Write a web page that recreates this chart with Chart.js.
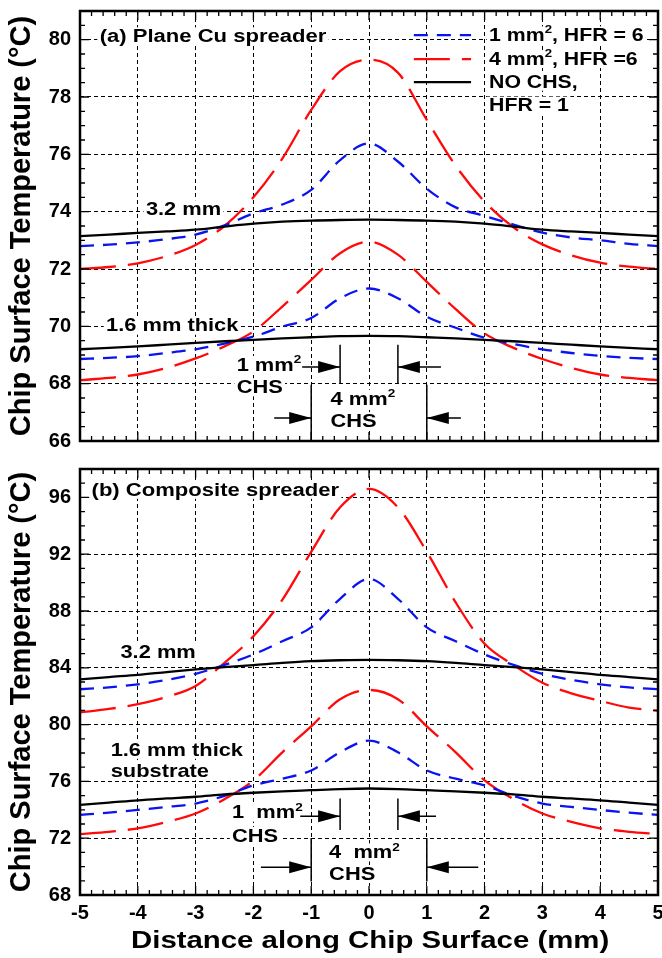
<!DOCTYPE html>
<html>
<head>
<meta charset="utf-8">
<script src="https://cdn.jsdelivr.net/npm/chart.js@4.4.0/dist/chart.umd.min.js"></script>
<style>
  body { margin: 0; background: #fff; }
  #wrap { position: relative; width: 662px; height: 958px; }
  #chartA { position: absolute; left: 0; top: 0; }
  #chartB { position: absolute; left: 0; top: 455px; }
</style>
</head>
<body>
<div id="wrap">
  <canvas id="chartA" width="662" height="455"></canvas>
  <canvas id="chartB" width="662" height="503"></canvas>
</div>
<script>
// distance along chip surface (mm)
const distance = [-5, -4.5, -4, -3.5, -3, -2.5, -2, -1.5, -1, -0.5, 0, 0.5, 1, 1.5, 2, 2.5, 3, 3.5, 4, 4.5, 5];
const xTicks = [-5, -4, -3, -2, -1, 0, 1, 2, 3, 4, 5];
const yTicksA = [66, 68, 70, 72, 74, 76, 78, 80];
const yTicksB = [68, 72, 76, 80, 84, 88, 92, 96];

// (a) plane Cu spreader, 3.2 mm
const cuThickChs1 = [72.8, 72.85, 72.93, 73.04, 73.2, 73.52, 73.94, 74.25, 74.76, 75.8, 76.38, 75.75, 74.8, 74.15, 73.85, 73.55, 73.27, 73.1, 73.0, 72.88, 72.8];
const cuThickChs4 = [72.0, 72.07, 72.2, 72.45, 72.84, 73.5, 74.5, 75.85, 77.55, 78.9, 79.3, 78.85, 77.2, 75.6, 74.35, 73.45, 72.86, 72.48, 72.22, 72.08, 72.0];
const cuThickNoChs = [73.15, 73.2, 73.26, 73.31, 73.37, 73.48, 73.58, 73.65, 73.69, 73.71, 73.72, 73.71, 73.69, 73.65, 73.58, 73.48, 73.37, 73.31, 73.26, 73.2, 73.15];
// (a) plane Cu spreader, 1.6 mm
const cuThinChs1 = [68.86, 68.9, 68.96, 69.07, 69.2, 69.4, 69.64, 69.99, 70.29, 70.98, 71.32, 70.98, 70.33, 69.95, 69.6, 69.38, 69.2, 69.07, 68.97, 68.9, 68.86];
const cuThinChs4 = [68.12, 68.2, 68.32, 68.55, 68.88, 69.3, 69.82, 70.69, 71.62, 72.55, 72.95, 72.5, 71.55, 70.6, 69.75, 69.25, 68.86, 68.55, 68.32, 68.2, 68.12];
const cuThinNoChs = [69.2, 69.25, 69.3, 69.36, 69.42, 69.48, 69.53, 69.58, 69.62, 69.66, 69.67, 69.66, 69.62, 69.58, 69.53, 69.48, 69.42, 69.36, 69.3, 69.25, 69.2];
// (b) composite spreader, 3.2 mm
const compThickChs1 = [82.49, 82.62, 82.84, 83.15, 83.58, 84.2, 84.94, 85.87, 86.85, 88.86, 90.26, 88.86, 86.85, 85.87, 84.94, 84.2, 83.58, 83.15, 82.84, 82.62, 82.49];
const compThickChs4 = [80.86, 81.1, 81.44, 81.95, 82.72, 84.35, 86.22, 88.79, 92.17, 95.3, 96.6, 95.3, 92.17, 88.6, 85.7, 84.2, 82.95, 82.2, 81.67, 81.2, 80.97];
const compThickNoChs = [83.19, 83.35, 83.5, 83.7, 83.89, 84.05, 84.19, 84.35, 84.47, 84.53, 84.56, 84.53, 84.47, 84.35, 84.19, 84.05, 83.89, 83.7, 83.5, 83.35, 83.19];
// (b) composite spreader, 1.6 mm
const compThinChs1 = [73.64, 73.8, 73.99, 74.2, 74.44, 74.98, 75.72, 76.19, 76.77, 78.05, 78.87, 78.05, 76.77, 76.19, 75.72, 74.98, 74.44, 74.2, 73.99, 73.8, 73.64];
const compThinChs4 = [72.29, 72.45, 72.7, 73.15, 73.74, 74.75, 76.07, 78.05, 79.88, 81.79, 82.44, 81.79, 79.88, 78.05, 76.07, 74.75, 73.74, 73.15, 72.7, 72.45, 72.29];
const compThinNoChs = [74.34, 74.5, 74.67, 74.8, 74.92, 75.08, 75.2, 75.3, 75.38, 75.46, 75.5, 75.46, 75.38, 75.3, 75.2, 75.08, 74.92, 74.8, 74.67, 74.5, 74.34];

const FONT = '"Liberation Sans", Arial, Helvetica, sans-serif';
const BLUE = '#0a14f0';
const RED = '#ff0a0a';

const blueStyle = { borderColor: BLUE, borderWidth: 2.3, borderDash: [14, 9] };
const redStyle = { borderColor: RED, borderWidth: 2.3, borderDash: [36, 12] };
const blackStyle = { borderColor: '#000', borderWidth: 2.3, borderDash: [] };

function series(values, style) {
  return {
    data: values.map((v, i) => ({ x: distance[i], y: v })),
    pointRadius: 0,
    fill: false,
    cubicInterpolationMode: 'monotone',
    ...style,
  };
}

// rich text: parts starting with '^' are superscripts
function layoutRich(ctx, parts, size) {
  return parts.map((p) => {
    const sup = p.startsWith('^');
    const t = sup ? p.slice(1) : p;
    const f = sup ? size * 0.62 : size;
    ctx.font = `bold ${f}px ${FONT}`;
    return { t, sup, f, w: ctx.measureText(t).width };
  });
}

function drawRich(ctx, px, py, parts, size, sx, bgOnly) {
  const segs = layoutRich(ctx, parts, size);
  const total = segs.reduce((s, g) => s + g.w, 0);
  ctx.save();
  ctx.translate(px, py);
  ctx.scale(sx, 1);
  if (bgOnly) {
    ctx.fillStyle = '#fff';
    ctx.fillRect(-2, -size * 0.78, total + 4, size * 0.95);
  } else {
    ctx.fillStyle = '#000';
    ctx.textBaseline = 'alphabetic';
    ctx.textAlign = 'left';
    let cx = 0;
    segs.forEach((g) => {
      ctx.font = `bold ${g.f}px ${FONT}`;
      ctx.fillText(g.t, cx, g.sup ? -size * 0.4 : 0);
      cx += g.w;
    });
  }
  ctx.restore();
}

function arrowHead(ctx, tipX, tipY, dir) {
  ctx.beginPath();
  ctx.moveTo(tipX, tipY);
  ctx.lineTo(tipX - dir * 22, tipY - 6);
  ctx.lineTo(tipX - dir * 22, tipY + 6);
  ctx.closePath();
  ctx.fill();
}

const notesPlugin = {
  id: 'notes',
  beforeDatasetsDraw(chart, args, opts) {
    const { ctx, scales: { x, y } } = chart;
    (opts.texts || []).forEach((t) => {
      drawRich(ctx, x.getPixelForValue(t.x), y.getPixelForValue(t.y), t.parts, t.size || 19, t.sx || 1.15, true);
    });
  },
  afterDatasetsDraw(chart, args, opts) {
    const { ctx, chartArea: a, scales: { x, y } } = chart;
    ctx.save();
    // legend samples
    (opts.legend || []).forEach((l) => {
      ctx.strokeStyle = l.style.borderColor;
      ctx.lineWidth = 2.3;
      ctx.setLineDash(l.style.borderDash);
      ctx.beginPath();
      ctx.moveTo(x.getPixelForValue(l.x0), y.getPixelForValue(l.y));
      ctx.lineTo(x.getPixelForValue(l.x1), y.getPixelForValue(l.y));
      ctx.stroke();
    });
    ctx.setLineDash([]);
    // hot spot bracket lines and arrows
    ctx.strokeStyle = '#000';
    ctx.fillStyle = '#000';
    ctx.lineWidth = 1.5;
    (opts.vlines || []).forEach((v) => {
      const px = x.getPixelForValue(v.x);
      ctx.beginPath();
      ctx.moveTo(px, y.getPixelForValue(v.y0));
      ctx.lineTo(px, y.getPixelForValue(v.y1));
      ctx.stroke();
    });
    (opts.arrows || []).forEach((r) => {
      const py = y.getPixelForValue(r.y);
      const from = x.getPixelForValue(r.from);
      const to = x.getPixelForValue(r.to);
      ctx.beginPath();
      ctx.moveTo(from, py);
      ctx.lineTo(to, py);
      ctx.stroke();
      arrowHead(ctx, to, py, to > from ? 1 : -1);
    });
    ctx.restore();
    (opts.texts || []).forEach((t) => {
      drawRich(ctx, x.getPixelForValue(t.x), y.getPixelForValue(t.y), t.parts, t.size || 19, t.sx || 1.15, false);
    });
    // frame with inward ticks
    ctx.save();
    ctx.strokeStyle = '#000';
    ctx.lineWidth = 1.3;
    ctx.beginPath();
    for (let i = 0; i <= 50; i += 1) {
      const px = x.getPixelForValue(-5 + i * 0.2);
      const len = i % 5 === 0 ? 9 : 5;
      ctx.moveTo(px, a.bottom); ctx.lineTo(px, a.bottom - len);
      ctx.moveTo(px, a.top); ctx.lineTo(px, a.top + len);
    }
    for (let v = y.min; v <= y.max + 1e-6; v += opts.minorY) {
      const py = y.getPixelForValue(v);
      const major = Math.abs(((v - y.min) / opts.majorY) - Math.round((v - y.min) / opts.majorY)) < 1e-6;
      const len = major ? 9 : 5;
      ctx.moveTo(a.left, py); ctx.lineTo(a.left + len, py);
      ctx.moveTo(a.right, py); ctx.lineTo(a.right - len, py);
    }
    ctx.stroke();
    ctx.lineWidth = 2.5;
    ctx.strokeRect(a.left, a.top, a.right - a.left, a.bottom - a.top);
    if (opts.xTitle) {
      drawRich(ctx, (a.left + a.right) / 2 - 238, a.bottom + 53.3, [opts.xTitle], 23.5, 1.25, false);
    }
    ctx.restore();
  },
};

function makeOptions(yMin, yMax, yTicks, showX, notes) {
  return {
    responsive: false,
    animation: false,
    layout: { padding: showX ? { top: 14, right: 4, bottom: 0, left: 0 } : { top: 11, right: 4, bottom: 14, left: 0 } },
    plugins: { legend: { display: false }, tooltip: { enabled: false }, notes },
    scales: {
      x: {
        type: 'linear',
        min: -5,
        max: 5,
        afterBuildTicks: (s) => { s.ticks = xTicks.map((v) => ({ value: v })); },
        ticks: { display: showX, padding: 6, color: '#000', font: { family: FONT, size: 20, weight: 'bold' } },
        grid: { color: '#000', lineWidth: 1, drawTicks: false },
        border: { display: false, dash: [4, 3] },
        afterFit: (s) => { s.height = showX ? 63 : 0; s.paddingLeft = 0; s.paddingRight = 0; },
      },
      y: {
        type: 'linear',
        min: yMin,
        max: yMax,
        afterBuildTicks: (s) => { s.ticks = yTicks.map((v) => ({ value: v })); },
        ticks: { padding: 9, color: '#000', font: { family: FONT, size: 20, weight: 'bold' } },
        grid: { color: '#000', lineWidth: 1, drawTicks: false },
        border: { display: false, dash: [4, 3] },
        title: {
          display: true,
          text: 'Chip Surface Temperature (°C)',
          color: '#000',
          font: { family: FONT, size: 29, weight: 'bold' },
          padding: { top: 5, bottom: 0 },
        },
        afterFit: (s) => { s.width = 80; s.paddingTop = 0; s.paddingBottom = 0; },
      },
    },
  };
}

new Chart(document.getElementById('chartA'), {
  type: 'line',
  data: {
    datasets: [
      series(cuThickNoChs, blackStyle),
      series(cuThinNoChs, blackStyle),
      series(cuThickChs1, blueStyle),
      series(cuThinChs1, blueStyle),
      series(cuThickChs4, redStyle),
      series(cuThinChs4, redStyle),
    ],
  },
  options: makeOptions(66, 81, yTicksA, false, {
    minorY: 0.5,
    majorY: 2,
    texts: [
      { x: -4.66, y: 79.92, parts: ['(a) Plane Cu spreader'], size: 18.7, sx: 1.18 },
      { x: -3.86, y: 73.88, parts: ['3.2 mm'] },
      { x: -4.55, y: 69.82, parts: ['1.6 mm thick'] },
      { x: -2.29, y: 68.45, parts: ['1 mm', '^2'] },
      { x: -2.29, y: 67.67, parts: ['CHS'] },
      { x: -0.665, y: 67.27, parts: ['4 mm', '^2'] },
      { x: -0.665, y: 66.49, parts: ['CHS'] },
      { x: 2.077, y: 79.96, parts: ['1 mm', '^2', ', HFR = 6'], size: 18.5, sx: 1.15 },
      { x: 2.077, y: 79.12, parts: ['4 mm', '^2', ', HFR =6'], size: 18.5, sx: 1.15 },
      { x: 2.077, y: 78.33, parts: ['NO CHS,'], size: 18.5, sx: 1.15 },
      { x: 2.077, y: 77.51, parts: ['HFR = 1'], size: 18.5, sx: 1.15 },
    ],
    legend: [
      { x0: 0.776, x1: 1.766, y: 80.16, style: blueStyle },
      { x0: 0.776, x1: 1.766, y: 79.32, style: redStyle },
      { x0: 0.776, x1: 1.766, y: 78.52, style: blackStyle },
    ],
    vlines: [
      { x: -0.5, y0: 69.36, y1: 68.0 },
      { x: 0.5, y0: 69.36, y1: 68.0 },
      { x: -1, y0: 67.96, y1: 66 },
      { x: 1, y0: 67.96, y1: 66 },
    ],
    arrows: [
      { from: -1.156, to: -0.5, y: 68.58 },
      { from: 1.245, to: 0.5, y: 68.58 },
      { from: -1.64, to: -1, y: 66.8 },
      { from: 1.59, to: 1, y: 66.8 },
    ],
  }),
  plugins: [notesPlugin],
});

new Chart(document.getElementById('chartB'), {
  type: 'line',
  data: {
    datasets: [
      series(compThickNoChs, blackStyle),
      series(compThinNoChs, blackStyle),
      series(compThickChs1, blueStyle),
      series(compThinChs1, blueStyle),
      series(compThickChs4, redStyle),
      series(compThinChs4, redStyle),
    ],
  },
  options: makeOptions(68, 98, yTicksB, true, {
    minorY: 1,
    majorY: 4,
    xTitle: 'Distance along Chip Surface (mm)',
    texts: [
      { x: -4.8, y: 96.13, parts: ['(b) Composite spreader'], size: 18.7, sx: 1.18 },
      { x: -4.30, y: 84.7, parts: ['3.2 mm'] },
      { x: -4.47, y: 77.82, parts: ['1.6 mm thick'] },
      { x: -4.47, y: 76.3, parts: ['substrate'] },
      { x: -2.37, y: 73.39, parts: ['1  mm', '^2'] },
      { x: -2.37, y: 71.75, parts: ['CHS'] },
      { x: -0.69, y: 70.59, parts: ['4  mm', '^2'] },
      { x: -0.69, y: 69.07, parts: ['CHS'] },
    ],
    vlines: [
      { x: -0.5, y0: 74.79, y1: 72.57 },
      { x: 0.5, y0: 74.79, y1: 72.57 },
      { x: -1, y0: 72.01, y1: 68.95 },
      { x: 1, y0: 72.01, y1: 68.95 },
    ],
    arrows: [
      { from: -1.19, to: -0.5, y: 73.55 },
      { from: 1.16, to: 0.5, y: 73.55 },
      { from: -1.87, to: -1, y: 69.96 },
      { from: 1.89, to: 1, y: 69.96 },
    ],
  }),
  plugins: [notesPlugin],
});
</script>
</body>
</html>
